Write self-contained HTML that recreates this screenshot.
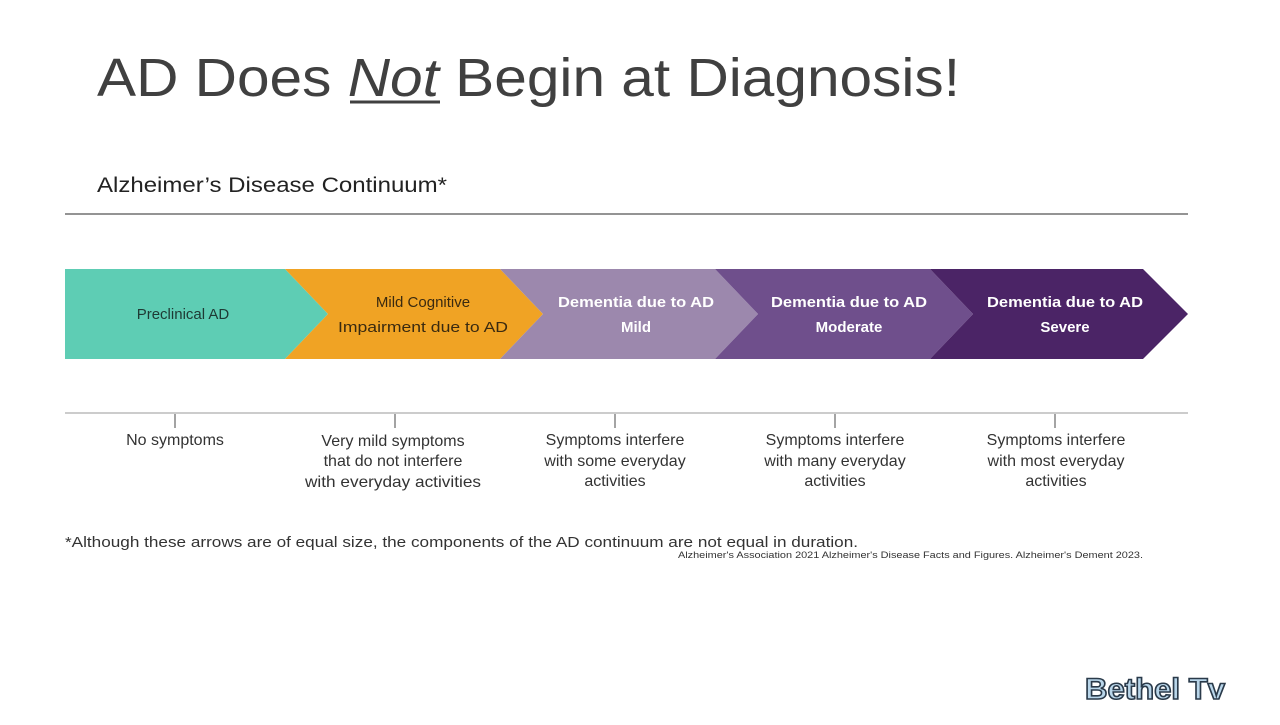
<!DOCTYPE html>
<html><head><meta charset="utf-8"><style>
body{margin:0;width:1280px;height:720px;background:#fff;overflow:hidden;font-family:"Liberation Sans",sans-serif;}
</style></head><body>
<svg width="1280" height="720" xmlns="http://www.w3.org/2000/svg" font-family="Liberation Sans, sans-serif">
<text x="97" y="96" font-size="54" fill="#404040" textLength="863" lengthAdjust="spacingAndGlyphs">AD Does <tspan font-style="italic">Not</tspan> Begin at Diagnosis!</text>
<line x1="350" y1="102" x2="440" y2="102" stroke="#404040" stroke-width="3"/>
<text x="97" y="192" font-size="21" fill="#222" textLength="350" lengthAdjust="spacingAndGlyphs">Alzheimer’s Disease Continuum*</text>
<line x1="65" y1="214" x2="1188" y2="214" stroke="#555" stroke-width="1.2"/>
<polygon points="65,269 285,269 328,314 285,359 65,359" fill="#5ecdb4"/>
<polygon points="285,269 500,269 543,314 500,359 285,359 328,314" fill="#f0a324"/>
<polygon points="500,269 715,269 758,314 715,359 500,359 543,314" fill="#9c88ad"/>
<polygon points="715,269 930,269 973,314 930,359 715,359 758,314" fill="#6f4f8c"/>
<polygon points="930,269 1143,269 1188,314 1143,359 930,359 973,314" fill="#4b2466"/>
<g font-size="15" text-anchor="middle">
<text x="183" y="319" fill="#1e3a34">Preclinical AD</text>
<text x="423" y="307" fill="#3a2a10">Mild Cognitive</text>
<text x="423" y="332" fill="#3a2a10" textLength="170" lengthAdjust="spacingAndGlyphs">Impairment due to AD</text>
<g fill="#fff" font-weight="bold">
<text x="636" y="307" textLength="156" lengthAdjust="spacingAndGlyphs">Dementia due to AD</text><text x="636" y="332">Mild</text>
<text x="849" y="307" textLength="156" lengthAdjust="spacingAndGlyphs">Dementia due to AD</text><text x="849" y="332">Moderate</text>
<text x="1065" y="307" textLength="156" lengthAdjust="spacingAndGlyphs">Dementia due to AD</text><text x="1065" y="332">Severe</text>
</g></g>
<line x1="65" y1="413" x2="1188" y2="413" stroke="#ccc" stroke-width="2"/>
<g stroke="#666" stroke-width="1.2">
<line x1="175" y1="414" x2="175" y2="428"/><line x1="395" y1="414" x2="395" y2="428"/>
<line x1="615" y1="414" x2="615" y2="428"/><line x1="835" y1="414" x2="835" y2="428"/>
<line x1="1055" y1="414" x2="1055" y2="428"/></g>
<g font-size="16" text-anchor="middle" fill="#333">
<text x="175" y="445">No symptoms</text>
<text x="393" y="446">Very mild symptoms</text><text x="393" y="466">that do not interfere</text><text x="393" y="487" textLength="176" lengthAdjust="spacingAndGlyphs">with everyday activities</text>
<text x="615" y="445">Symptoms interfere</text><text x="615" y="466">with some everyday</text><text x="615" y="486">activities</text>
<text x="835" y="445">Symptoms interfere</text><text x="835" y="466">with many everyday</text><text x="835" y="486">activities</text>
<text x="1056" y="445">Symptoms interfere</text><text x="1056" y="466">with most everyday</text><text x="1056" y="486">activities</text>
</g>
<text x="65" y="547" font-size="15" fill="#333" textLength="793" lengthAdjust="spacingAndGlyphs">*Although these arrows are of equal size, the components of the AD continuum are not equal in duration.</text>
<text x="678" y="558" font-size="9" fill="#333" textLength="465" lengthAdjust="spacingAndGlyphs">Alzheimer's Association 2021 Alzheimer's Disease Facts and Figures. Alzheimer's Dement 2023.</text>
<text x="1085" y="699" font-size="30" font-weight="bold" fill="#b9d6ea" stroke="#2a3a4a" stroke-width="1.6" textLength="140" lengthAdjust="spacingAndGlyphs">Bethel Tv</text>
</svg>
</body></html>
